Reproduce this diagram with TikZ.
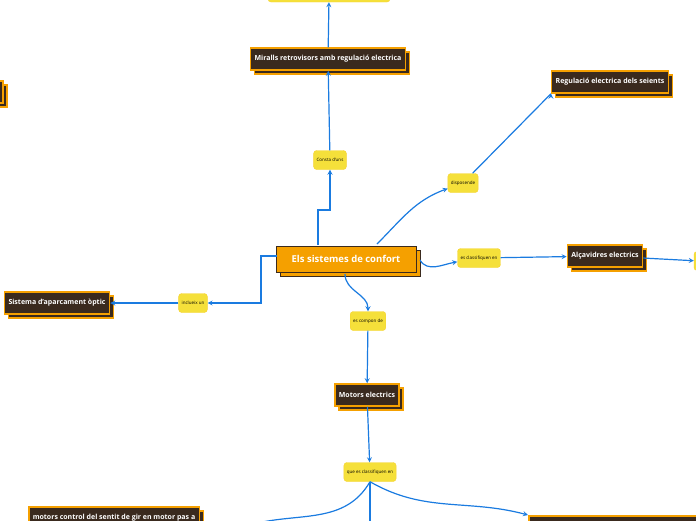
\documentclass[tikz,border=0pt]{standalone}
\usepackage{fontspec}
\setmainfont{Open Sans}
\usetikzlibrary{shadows}
\definecolor{dark}{HTML}{3A2A1E}
\definecolor{orng}{HTML}{F5A000}
\definecolor{yel}{HTML}{F5E03A}
\definecolor{link}{HTML}{1A7BE0}
\begin{document}
\begin{tikzpicture}[x=1pt,y=-1pt,
  topic/.style = {draw=orng, line width=1.5pt, fill=dark, text=white, font=\bfseries\fontsize{7}{8}\selectfont, inner sep=4pt, minimum height=22pt,
    copy shadow={shadow xshift=4pt, shadow yshift=-4pt, draw=orng, fill=dark}},
  root/.style = {draw=dark, line width=1pt, fill=orng, text=white, font=\bfseries\fontsize{9.5}{11}\selectfont, minimum height=26pt, minimum width=140pt,
    copy shadow={shadow xshift=4pt, shadow yshift=-4pt, draw=dark, fill=orng}},
  rel/.style = {fill=yel, draw=yel!85!orange, rounded corners=3pt, font=\fontsize{4.5}{5}\selectfont, minimum height=19pt, inner sep=3pt},
  link/.style = {draw=link, line width=1.2pt, ->, >=stealth}]
\useasboundingbox (0,0) rectangle (696,520);
\node[root] (main) at (346,259) {Els sistemes de confort};
\node[topic] (mir) at (328,59) {Miralls retrovisors amb regulació electrica};
\node[rel, minimum width=122pt, minimum height=8pt] (top) at (329,-2) {};
\node[topic] (reg) at (610,82) {Regulació electrica dels seients};
\node[rel] (consta) at (330,160) {Consta d'uns};
\node[rel] (disp) at (463,183) {disposende};
\node[rel] (escl) at (479,258) {es classifiquen en};
\node[topic] (alc) at (605,256) {Alçavidres electrics};
\node[rel, minimum width=10pt] (rgt) at (699,261) {};
\node[topic, minimum width=12pt] (lft) at (-3,92) {};
\node[topic] (sis) at (57,303) {Sistema d'aparcament òptic};
\node[rel] (incl) at (193,303) {inclueix un};
\node[rel] (comp) at (368,321) {es compon de};
\node[topic] (mot) at (367,395) {Motors electrics};
\node[rel] (que) at (370,472) {que es classifiquen en};
\node[topic, anchor=north west] (pas) at (28,506) {motors control del sentit de gir en motor pas a};
\node[topic, minimum width=170pt, anchor=north west] (brt) at (528,515) {};
\coordinate (bot) at (370,525);
\draw[link] (318,245) |- (330,210) -- (consta);
\draw[link] (consta) -- (mir);
\draw[link] (mir) -- (top);
\draw[link] (377,244) to[out=-45+90,in=200] (disp);
\draw[link] (disp) -- (reg.south west) ++(0,0);
\draw[link] (420,260) to[out=-60,in=190] (escl);
\draw[link] (escl) -- (alc);
\draw[link] (alc) -- (rgt);
\draw[link] (277,256) -| (261,303) -- (incl);
\draw[link] (incl) -- (sis);
\draw[link] (345,274) to[out=-90,in=90] (comp);
\draw[link] (comp) -- (mot);
\draw[link] (mot) -- (que);
\draw[link] (que.south) to[out=-120,in=15] (250,525);
\draw[link, -] (que.south) -- (bot);
\draw[link] (que.south) to[out=-30,in=165] (brt.north west);
\end{tikzpicture}
\end{document}
